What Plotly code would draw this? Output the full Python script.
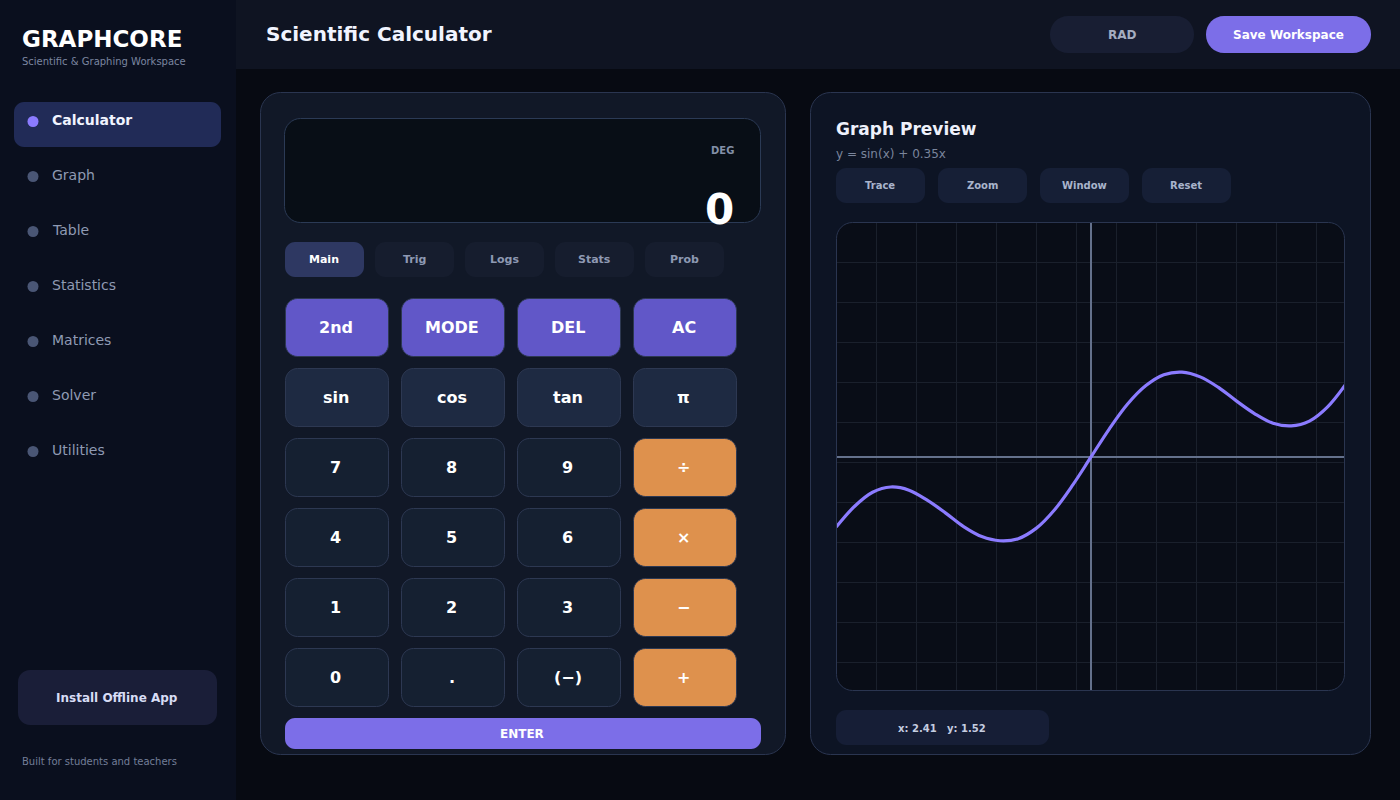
import plotly.graph_objects as go

W, H = 1400, 800
FONT = "DejaVu Sans"

curve_x = [-5.6, -5.2, -4.8, -4.4, -4.0, -3.6, -3.2, -2.8, -2.4, -2.0, -1.6, -1.2, -0.8, -0.4, 0.0,
           0.4, 0.8, 1.2, 1.6, 2.0, 2.4, 2.8, 3.2, 3.6, 4.0, 4.4, 4.8, 5.2, 5.6]
curve_y = [-1.33, -0.94, -0.67, -0.57, -0.63, -0.82, -1.06, -1.32, -1.51, -1.59, -1.55, -1.35, -1.00, -0.53, 0.0,
           0.53, 1.00, 1.35, 1.56, 1.61, 1.52, 1.32, 1.06, 0.82, 0.64, 0.59, 0.68, 0.95, 1.38]

nav_labels = ["Calculator", "Graph", "Table", "Statistics", "Matrices", "Solver", "Utilities"]
tab_labels = ["Main", "Trig", "Logs", "Stats", "Prob"]
graph_buttons = ["Trace", "Zoom", "Window", "Reset"]
key_rows = [
    ["2nd", "MODE", "DEL", "AC"],
    ["sin", "cos", "tan", "π"],
    ["7", "8", "9", "÷"],
    ["4", "5", "6", "×"],
    ["1", "2", "3", "−"],
    ["0", ".", "(−)", "+"],
]

shapes = []
annotations = []


def px(x):
    return x / W


def py(y):
    return 1 - y / H


def rrect(x0, y0, x1, y1, r, fill, line=None, layer="below"):
    k = r * 0.45
    pts = [
        f"M{px(x0 + r)},{py(y0)}", f"L{px(x1 - r)},{py(y0)}",
        f"C{px(x1 - k)},{py(y0)} {px(x1)},{py(y0 + k)} {px(x1)},{py(y0 + r)}",
        f"L{px(x1)},{py(y1 - r)}",
        f"C{px(x1)},{py(y1 - k)} {px(x1 - k)},{py(y1)} {px(x1 - r)},{py(y1)}",
        f"L{px(x0 + r)},{py(y1)}",
        f"C{px(x0 + k)},{py(y1)} {px(x0)},{py(y1 - k)} {px(x0)},{py(y1 - r)}",
        f"L{px(x0)},{py(y0 + r)}",
        f"C{px(x0)},{py(y0 + k)} {px(x0 + k)},{py(y0)} {px(x0 + r)},{py(y0)}", "Z",
    ]
    shapes.append(dict(type="path", xref="paper", yref="paper", path=" ".join(pts), fillcolor=fill,
                       line=dict(color=line or "rgba(0,0,0,0)", width=1 if line else 0), layer=layer))


def corner_mask(cx, cy, sx, sy, r, fill):
    # cx, cy is the outer corner, sx, sy point into the box
    k = r * 0.45
    path = (f"M{px(cx)},{py(cy)} L{px(cx + sx * r)},{py(cy)} "
            f"C{px(cx + sx * k)},{py(cy)} {px(cx)},{py(cy + sy * k)} {px(cx)},{py(cy + sy * r)} Z")
    shapes.append(dict(type="path", xref="paper", yref="paper", path=path, fillcolor=fill,
                       line=dict(width=0), layer="above"))


def box(x0, y0, x1, y1, fill):
    shapes.append(dict(type="rect", xref="paper", yref="paper", x0=px(x0), x1=px(x1), y0=py(y1), y1=py(y0),
                       fillcolor=fill, line=dict(width=0), layer="below"))


def dot(cx, cy, r, fill):
    shapes.append(dict(type="circle", xref="paper", yref="paper", x0=px(cx - r), x1=px(cx + r),
                       y0=py(cy + r), y1=py(cy - r), fillcolor=fill, line=dict(width=0), layer="below"))


def label(x, y, text, size, color, bold=False, anchor="center"):
    annotations.append(dict(xref="paper", yref="paper", x=px(x), y=py(y), text=f"<b>{text}</b>" if bold else text,
                            showarrow=False, xanchor=anchor, yanchor="middle", borderpad=0, borderwidth=0,
                            font=dict(family=FONT, size=size, color=color)))


# page, sidebar, top bar
box(0, 0, W, H, "#070a12")
box(0, 0, 236, H, "#0a0f1e")
box(236, 0, W, 69, "#0f1422")

label(22, 39, "GRAPHCORE", 23, "#ffffff", True, "left")
label(22, 61, "Scientific &amp; Graphing Workspace", 10, "#7b86a0", False, "left")

rrect(14, 102, 221, 147, 10, "#212b57")
for i, name in enumerate(nav_labels):
    y = 120 + 55 * i
    dot(33, y + 1.5, 5.5, "#8b7bff" if i == 0 else "#4a5675")
    label(52, y, name, 14, "#f1f4ff" if i == 0 else "#8f9ab3", i == 0, "left")

rrect(18, 670, 217, 725, 12, "#1a1e38")
label(117, 698, "Install Offline App", 12, "#d7dcf5", True)
label(22, 761, "Built for students and teachers", 10, "#737e98", False, "left")

label(266, 34.5, "Scientific Calculator", 20, "#f1f4ff", True, "left")
rrect(1050, 16, 1194, 53, 18, "#181e33")
label(1122, 35, "RAD", 12, "#a4adc0", True)
rrect(1206, 16, 1371, 53, 18, "#7c6ee8")
label(1288.5, 35, "Save Workspace", 12, "#ffffff", True)

# calculator panel
rrect(260.5, 92.5, 785.5, 754.5, 20, "#111827", "#2a3550")
rrect(284.5, 118.5, 760.5, 222.5, 16, "#080e16", "#2b3a55")
label(734, 150, "DEG", 10, "#8390a8", True, "right")
label(734, 210, "0", 42, "#ffffff", True, "right")

for i, name in enumerate(tab_labels):
    x0 = 285 + 90 * i
    rrect(x0, 242, x0 + 79, 277, 10, "#2e3862" if i == 0 else "#161d2e")
    label(x0 + 39, 259.5, name, 11, "#ffffff" if i == 0 else "#8e99b3", True)

for r, row in enumerate(key_rows):
    y0 = 298 + 70 * r
    for c, key in enumerate(row):
        x0 = 285 + 116 * c
        if r == 0:
            fill = "#6157c8"
        elif c == 3 and r > 1:
            fill = "#de914d"
        elif r == 1:
            fill = "#1e2a42"
        else:
            fill = "#152031"
        rrect(x0 + 0.5, y0 + 0.5, x0 + 103.5, y0 + 58.5, 12, fill, "#2d3852")
        label(x0 + 50.5, y0 + 29.5, key, 16, "#ffffff", True)

rrect(285, 718, 761, 749, 10, "#7c6ee8")
label(522, 734, "ENTER", 12, "#ffffff", True)

# graph panel
rrect(810.5, 92.5, 1370.5, 754.5, 20, "#0d1424", "#2a3550")
label(836, 128.5, "Graph Preview", 17, "#eef1fb", True, "left")
label(836, 154, "y = sin(x) + 0.35x", 12, "#7a859c", False, "left")
for i, name in enumerate(graph_buttons):
    x0 = 836 + 102 * i
    rrect(x0, 168, x0 + 89, 203, 10, "#161f36")
    label(x0 + 44, 185.5, name, 10, "#a9b4cc", True)

rrect(836.5, 222.5, 1344.5, 690.5, 16, "#090d17")
rrect(836, 710, 1049, 745, 10, "#161e36")
label(942, 728, "x: 2.41\u00a0\u00a0\u00a0y: 1.52", 10, "#c5cde0", True)

# frame corners and border go over the grid
corner_mask(836, 222, 1, 1, 16, "#0d1424")
corner_mask(1345, 222, -1, 1, 16, "#0d1424")
corner_mask(836, 691, 1, -1, 16, "#0d1424")
corner_mask(1345, 691, -1, -1, 16, "#0d1424")
rrect(836.5, 222.5, 1344.5, 690.5, 16, "rgba(0,0,0,0)", "#2a3550", layer="above")

fig = go.Figure()
fig.add_trace(go.Scatter(x=curve_x, y=curve_y, mode="lines", hoverinfo="skip", cliponaxis=True,
                         line=dict(color="#8b7bff", width=3.2, shape="spline", smoothing=1)))

fig.update_layout(
    width=W, height=H, margin=dict(l=0, r=0, t=0, b=0), autosize=False,
    paper_bgcolor="#070a12", plot_bgcolor="rgba(0,0,0,0)", showlegend=False, hovermode=False,
    shapes=shapes, annotations=annotations,
    xaxis=dict(domain=[px(836.5), px(1344.5)], range=[-5.593, 5.571], showticklabels=False, ticks="",
               tick0=-4.725, dtick=0.8791, showgrid=True, gridcolor="#1a202c", gridwidth=1,
               zeroline=True, zerolinecolor="#64718c", zerolinewidth=2, showline=False, fixedrange=True),
    yaxis=dict(domain=[py(690.5), py(222.5)], range=[-4.431, 4.449], showticklabels=False, ticks="",
               tick0=3.690, dtick=0.759, showgrid=True, gridcolor="#1a202c", gridwidth=1,
               zeroline=True, zerolinecolor="#64718c", zerolinewidth=2, showline=False, fixedrange=True),
)

fig.write_html("out.html", config=dict(displayModeBar=False),
               post_script="document.body.style.margin='0';document.body.style.overflow='hidden';")
